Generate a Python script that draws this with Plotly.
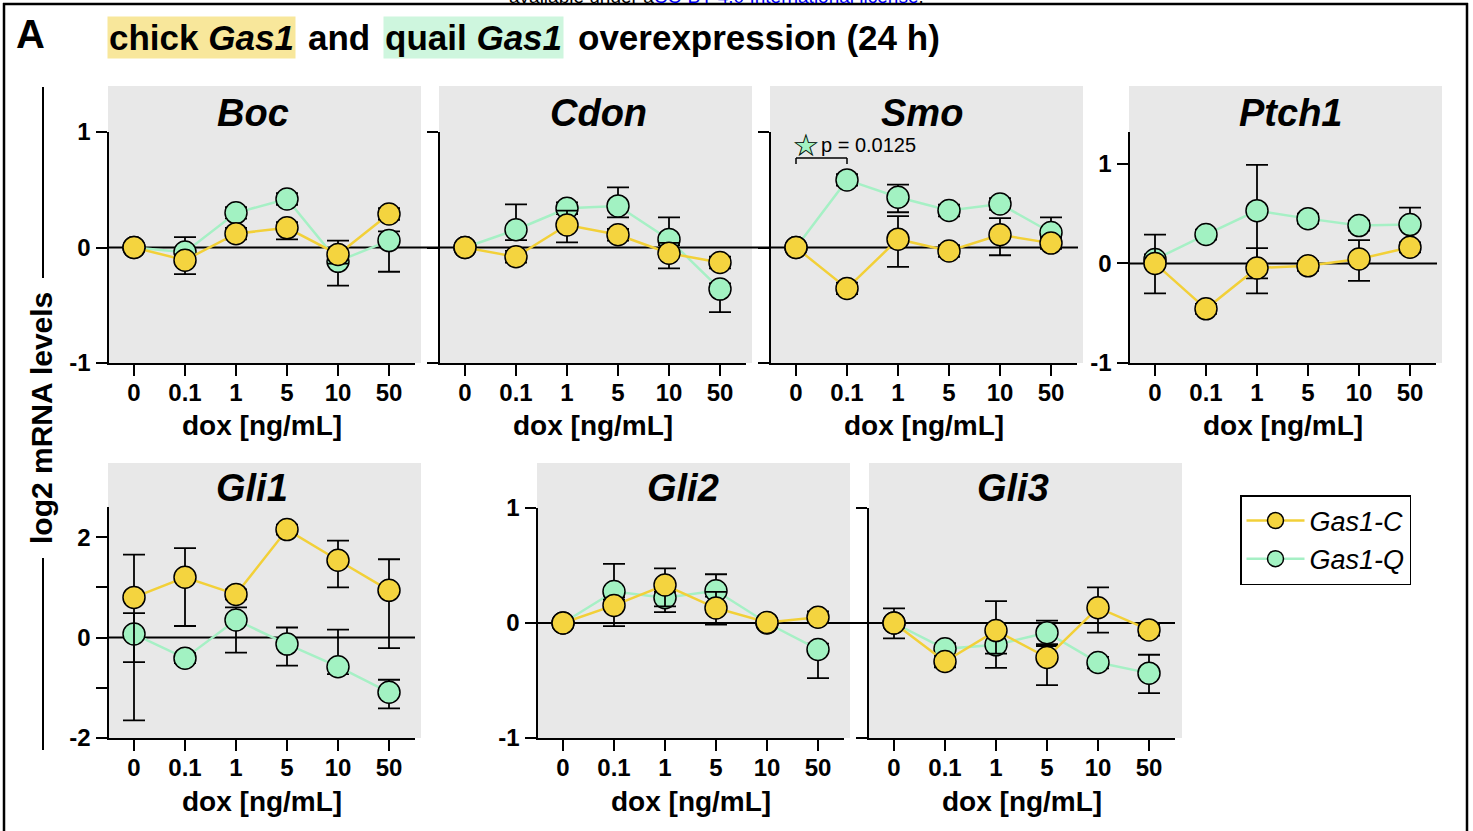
import plotly.graph_objects as go

# ---------------- data ----------------
doses = ["0", "0.1", "1", "5", "10", "50"]

# Boc
boc_c = [0, -0.11, 0.12, 0.17, -0.06, 0.29]
boc_c_up = [0, 0.05, 0.05, 0.05, 0.12, 0.05]
boc_c_dn = [0, 0.12, 0.05, 0.10, 0.08, 0.05]
boc_q = [0, -0.04, 0.30, 0.42, -0.12, 0.06]
boc_q_up = [0, 0.13, 0.05, 0.05, 0.08, 0.08]
boc_q_dn = [0, 0.08, 0.05, 0.05, 0.21, 0.27]

# Cdon
cdon_c = [0, -0.08, 0.195, 0.11, -0.05, -0.13]
cdon_c_up = [0, 0.05, 0.125, 0.05, 0.09, 0.05]
cdon_c_dn = [0, 0.05, 0.15, 0.05, 0.13, 0.05]
cdon_q = [0, 0.154, 0.34, 0.36, 0.07, -0.36]
cdon_q_up = [0, 0.22, 0.05, 0.16, 0.19, 0.05]
cdon_q_dn = [0, 0.09, 0.05, 0.10, 0.05, 0.20]

# Smo
smo_c = [0, -0.354, 0.072, -0.03, 0.11, 0.038]
smo_c_up = [0, 0.05, 0.20, 0.05, 0.145, 0.05]
smo_c_dn = [0, 0.05, 0.24, 0.05, 0.177, 0.05]
smo_q = [0, 0.585, 0.435, 0.32, 0.377, 0.13]
smo_q_up = [0, 0.05, 0.11, 0.05, 0.05, 0.13]
smo_q_dn = [0, 0.05, 0.13, 0.05, 0.05, 0.05]

# Ptch1
ptch1_c = [0, -0.456, -0.046, -0.024, 0.044, 0.162]
ptch1_c_up = [0.29, 0.05, 0.20, 0.05, 0.19, 0.05]
ptch1_c_dn = [0.30, 0.05, 0.254, 0.05, 0.22, 0.05]
ptch1_q = [0.04, 0.29, 0.53, 0.45, 0.38, 0.39]
ptch1_q_up = [0.05, 0.05, 0.46, 0.05, 0.05, 0.17]
ptch1_q_dn = [0.05, 0.05, 0.68, 0.05, 0.05, 0.20]

# Gli1
gli1_c = [0.80, 1.20, 0.86, 2.15, 1.54, 0.94]
gli1_c_up = [0.85, 0.58, 0.10, 0.10, 0.39, 0.62]
gli1_c_dn = [2.45, 0.97, 0.10, 0.10, 0.54, 1.15]
gli1_q = [0.07, -0.41, 0.35, -0.13, -0.58, -1.09]
gli1_q_up = [0.415, 0.10, 0.25, 0.33, 0.74, 0.25]
gli1_q_dn = [0.56, 0.10, 0.65, 0.43, 0.15, 0.32]

# Gli2
gli2_c = [0, 0.153, 0.33, 0.13, 0.005, 0.05]
gli2_c_up = [0, 0.05, 0.145, 0.14, 0.03, 0.05]
gli2_c_dn = [0, 0.18, 0.185, 0.145, 0.03, 0.05]
gli2_q = [0, 0.274, 0.22, 0.28, 0.0, -0.23]
gli2_q_up = [0, 0.24, 0.05, 0.144, 0.03, 0.05]
gli2_q_dn = [0, 0.05, 0.125, 0.05, 0.03, 0.25]

# Gli3
gli3_c = [0, -0.335, -0.066, -0.30, 0.133, -0.06]
gli3_c_up = [0.127, 0.05, 0.256, 0.10, 0.177, 0.05]
gli3_c_dn = [0.133, 0.05, 0.20, 0.24, 0.217, 0.05]
gli3_q = [0, -0.225, -0.19, -0.084, -0.344, -0.436]
gli3_q_up = [0, 0.05, 0.10, 0.104, 0.05, 0.16]
gli3_q_dn = [0, 0.05, 0.20, 0.10, 0.05, 0.174]

series_names = ["Gas1-C", "Gas1-Q"]

# ---------------- style / layout ----------------
W, H = 1473, 831


def fx(p):
    return p / W


def fy(p):
    return 1 - p / H


FONT = "Liberation Sans, Arial, Helvetica, sans-serif"
C_FILL, C_LINE = "#F4D43F", "#F2D038"
Q_FILL, Q_LINE = "#A2F2C2", "#A6F0C5"
BG = "#E8E8E8"

panels = [
    dict(gene="Boc", c=boc_c, cu=boc_c_up, cd=boc_c_dn, q=boc_q, qu=boc_q_up, qd=boc_q_dn,
         plot=(108.5, 414.5, 132, 363), bg=(108, 86, 421, 363), zero=(108, 440), title=(253, 113),
         yrange=[-1, 1], tv=[-1, 0, 1], tt=["-1", "0", "1"], labels=True),
    dict(gene="Cdon", c=cdon_c, cu=cdon_c_up, cd=cdon_c_dn, q=cdon_q, qu=cdon_q_up, qd=cdon_q_dn,
         plot=(439.5, 745.5, 132, 363), bg=(439, 86, 752, 363), zero=(439, 770), title=(598, 113),
         yrange=[-1, 1], tv=[-1, 0, 1], tt=["-1", "0", "1"], labels=False),
    dict(gene="Smo", c=smo_c, cu=smo_c_up, cd=smo_c_dn, q=smo_q, qu=smo_q_up, qd=smo_q_dn,
         plot=(770.5, 1076.5, 132, 363), bg=(770, 86, 1083, 363), zero=(770, 1078), title=(922, 113),
         yrange=[-1, 1], tv=[-1, 0, 1], tt=["-1", "0", "1"], labels=False),
    dict(gene="Ptch1", c=ptch1_c, cu=ptch1_c_up, cd=ptch1_c_dn, q=ptch1_q, qu=ptch1_q_up, qd=ptch1_q_dn,
         plot=(1129.5, 1435.5, 132, 363), bg=(1129, 86, 1442, 363), zero=(1130, 1437), title=(1290, 113),
         yrange=[-1, 1.32], tv=[-1, 0, 1], tt=["-1", "0", "1"], labels=True),
    dict(gene="Gli1", c=gli1_c, cu=gli1_c_up, cd=gli1_c_dn, q=gli1_q, qu=gli1_q_up, qd=gli1_q_dn,
         plot=(108.5, 414.5, 507, 738), bg=(108, 463, 421, 738), zero=(108, 415), title=(252, 488),
         yrange=[-2, 2.6], tv=[-2, -1, 0, 1, 2], tt=["-2", "", "0", "", "2"], labels=True),
    dict(gene="Gli2", c=gli2_c, cu=gli2_c_up, cd=gli2_c_dn, q=gli2_q, qu=gli2_q_up, qd=gli2_q_dn,
         plot=(537.5, 843.5, 508, 738), bg=(537, 463, 850, 738), zero=(537, 869), title=(683, 488),
         yrange=[-1, 1], tv=[-1, 0, 1], tt=["-1", "0", "1"], labels=True),
    dict(gene="Gli3", c=gli3_c, cu=gli3_c_up, cd=gli3_c_dn, q=gli3_q, qu=gli3_q_up, qd=gli3_q_dn,
         plot=(868.5, 1174.5, 508, 738), bg=(869, 463, 1182, 738), zero=(869, 1175), title=(1013, 488),
         yrange=[-1, 1], tv=[-1, 0, 1], tt=["-1", "0", "1"], labels=False),
]

fig = go.Figure()
shapes = []
annotations = []
layout_axes = {}

tickfont = dict(family=FONT, size=24, color="black", weight="bold")


def ann(text, x, y, size, xanchor="center", yanchor="middle", **kw):
    return dict(text=text, xref="paper", yref="paper", x=fx(x), y=fy(y), xanchor=xanchor,
                yanchor=yanchor, showarrow=False,
                font=dict(family=kw.pop("family", FONT), size=size, color=kw.pop("color", "black")),
                **kw)


for i, p in enumerate(panels):
    k = i + 1
    xr = "x" if k == 1 else f"x{k}"
    yr = "y" if k == 1 else f"y{k}"
    xname = "xaxis" if k == 1 else f"xaxis{k}"
    yname = "yaxis" if k == 1 else f"yaxis{k}"
    x0, x1, yt, yb = p["plot"]

    def err(up, dn):
        return dict(type="data", symmetric=False, array=up, arrayminus=dn,
                    color="black", thickness=1.8, width=11)

    fig.add_trace(go.Scatter(
        x=doses, y=p["q"], error_y=err(p["qu"], p["qd"]), mode="lines+markers",
        line=dict(color=Q_LINE, width=2.5),
        marker=dict(size=22, color=Q_FILL, line=dict(color="black", width=1.5)),
        xaxis=xr, yaxis=yr, name=series_names[1], showlegend=(k == 1), legendrank=2,
        hoverinfo="skip"))
    fig.add_trace(go.Scatter(
        x=doses, y=p["c"], error_y=err(p["cu"], p["cd"]), mode="lines+markers",
        line=dict(color=C_LINE, width=2.5),
        marker=dict(size=22, color=C_FILL, line=dict(color="black", width=1.5)),
        xaxis=xr, yaxis=yr, name=series_names[0], showlegend=(k == 1), legendrank=1,
        hoverinfo="skip"))

    layout_axes[xname] = dict(
        domain=[fx(x0), fx(x1)], anchor=yr, type="category", categoryorder="array",
        categoryarray=doses, range=[-0.5, 5.5], showline=True, linecolor="black", linewidth=2,
        ticks="outside", ticklen=11, tickwidth=2, tickcolor="black", tickfont=tickfont,
        ticklabelstandoff=-4,
        showgrid=False, zeroline=False, fixedrange=True, automargin=False)
    layout_axes[yname] = dict(
        domain=[fy(yb), fy(yt)], anchor=xr, range=p["yrange"], tickmode="array",
        tickvals=p["tv"], ticktext=p["tt"], showticklabels=p["labels"], showline=True,
        linecolor="black", linewidth=2, ticks="outside", ticklen=11, tickwidth=2,
        tickcolor="black", tickfont=tickfont, showgrid=False, zeroline=False, fixedrange=True,
        automargin=False)

    bx0, by0, bx1, by1 = p["bg"]
    shapes.append(dict(type="rect", xref="paper", yref="paper", x0=fx(bx0), x1=fx(bx1),
                       y0=fy(by1), y1=fy(by0), fillcolor=BG, line=dict(width=0), layer="below"))
    zx0, zx1 = p["zero"]
    shapes.append(dict(type="line", xref="paper", yref=yr, x0=fx(zx0), x1=fx(zx1), y0=0, y1=0,
                       line=dict(color="black", width=2), layer="below"))

    tx, ty = p["title"]
    annotations.append(ann(f"<b><i>{p['gene']}</i></b>", tx, ty, 38))
    annotations.append(ann("<b>dox [ng/mL]</b>", (x0 + x1) / 2, yb + 63, 28))

# significance bracket in Smo panel (axis 3)
for sx0, sy0, sx1, sy1 in [(0, 0.723, 0, 0.775), (0, 0.775, 1, 0.775), (1, 0.775, 1, 0.723)]:
    shapes.append(dict(type="line", xref="x3", yref="y3", x0=sx0, y0=sy0, x1=sx1, y1=sy1,
                       line=dict(color="black", width=1.5)))
for glyph, col in [("★", Q_FILL), ("☆", "black")]:
    annotations.append(dict(text=glyph, xref="x3", yref="y3", x=0.2, y=0.89, showarrow=False,
                            xanchor="center", yanchor="middle",
                            font=dict(family="DejaVu Sans", size=31, color=col)))
annotations.append(dict(text="p = 0.0125", xref="x3", yref="y3", x=0.45, y=0.89, xanchor="left",
                        yanchor="middle", showarrow=False,
                        font=dict(family=FONT, size=20, color="black")))

# figure title pieces
annotations += [
    ann("<b>A</b>", 30, 34, 40),
    ann("<b>chick <i>Gas1</i></b>", 201.5, 37, 35, bgcolor="#F8E79B", borderpad=1),
    ann("<b>and</b>", 339, 37, 35),
    ann("<b>quail <i>Gas1</i></b>", 473, 37, 35, bgcolor="#CEF6DE", borderpad=1),
    ann("<b>overexpression (24 h)</b>", 576, 37, 35, xanchor="left"),
    ann("<b>log2 mRNA levels</b>", 41, 418, 30, textangle=-90),
    ann("available under a<span style='color:#0000EE'>CC-BY 4.0 International license</span>.",
        716, 9, 19, yanchor="bottom"),
]

# y-title bracket lines and frame
for lx, ly0, ly1 in [(43, 87, 278), (43, 558, 750)]:
    shapes.append(dict(type="line", xref="paper", yref="paper", x0=fx(lx), x1=fx(lx),
                       y0=fy(ly0), y1=fy(ly1), line=dict(color="black", width=2)))
shapes += [
    dict(type="line", xref="paper", yref="paper", x0=fx(3), x1=fx(1468), y0=fy(4), y1=fy(4),
         line=dict(color="black", width=2.5)),
    dict(type="line", xref="paper", yref="paper", x0=fx(4), x1=fx(4), y0=fy(3), y1=fy(835),
         line=dict(color="black", width=2.5)),
    dict(type="line", xref="paper", yref="paper", x0=fx(1467), x1=fx(1467), y0=fy(3), y1=fy(835),
         line=dict(color="black", width=2.5)),
]

fig.update_layout(
    width=W, height=H, autosize=False,
    margin=dict(l=0, r=0, t=0, b=0, pad=0, autoexpand=False),
    paper_bgcolor="white", plot_bgcolor="rgba(0,0,0,0)",
    shapes=shapes, annotations=annotations,
    showlegend=True,
    legend=dict(x=fx(1240), y=fy(495), xanchor="left", yanchor="top",
                bordercolor="black", borderwidth=1.5, bgcolor="white",
                font=dict(family=FONT, size=27, color="black", style="italic"),
                traceorder="normal", itemwidth=58),
    hovermode=False,
    **layout_axes,
)

fig.write_html("out.html", config={"displayModeBar": False, "staticPlot": True},
               post_script="document.body.style.margin='0';document.body.style.overflow='hidden';")
